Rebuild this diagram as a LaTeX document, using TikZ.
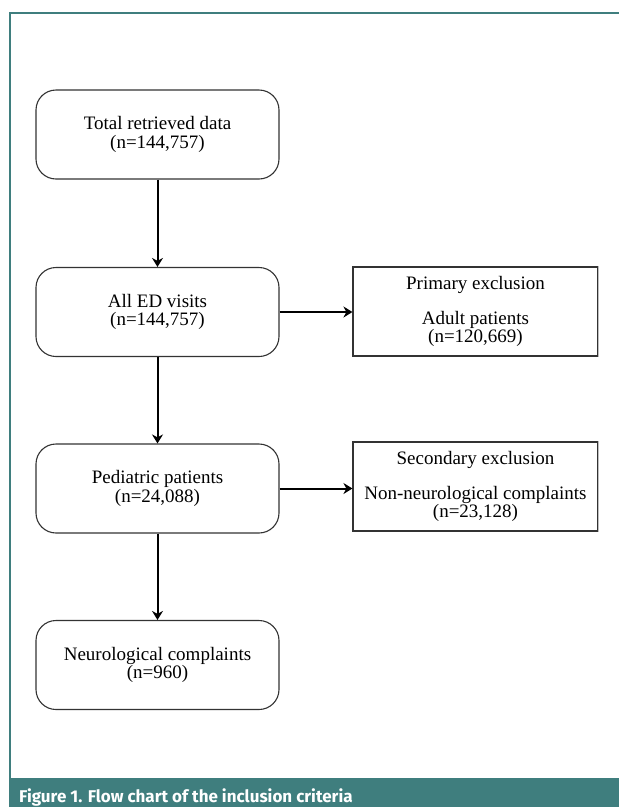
\documentclass[tikz,border=0pt]{standalone}
\usepackage{fontspec}
\setmainfont{Liberation Serif}
\newfontfamily\capfont{Fira Sans}
\usetikzlibrary{arrows.meta}
\definecolor{teal1}{HTML}{3F7E7E}
\begin{document}
\begin{tikzpicture}[x=1pt,y=-1pt,
  rbox/.style={draw=black!80,line width=1.1pt,rounded corners=20pt,minimum width=243pt,minimum height=89pt,align=center,font=\fontsize{19}{18.5}\selectfont},
  sbox/.style={draw=black!80,line width=1.1pt,minimum width=245pt,minimum height=89pt,align=center,font=\fontsize{19}{17}\selectfont},
  arr/.style={line width=2pt,-{Stealth[length=9pt,width=11pt]}}]
\useasboundingbox (0,0) rectangle (619,807);
\begin{scope}
\clip (0,0) rectangle (619,807);
\fill[teal1] (9,778) rectangle (619,812);
\draw[teal1,line width=2pt] (10,778) -- (10,13) -- (619,13);
\node[anchor=base west,text=white,font=\capfont\bfseries\fontsize{17}{20}\selectfont,inner sep=0pt] (cap) at (19,802) {Figure 1. Flow chart of the inclusion criteria};
\end{scope}
\node[rbox] (a) at (157.5,134.5) {Total retrieved data\\(n=144,757)};
\node[rbox] (b) at (157.5,312) {All ED visits\\(n=144,757)};
\node[rbox] (c) at (157.5,488.5) {Pediatric patients\\(n=24,088)};
\node[rbox] (d) at (157.5,665) {Neurological complaints\\(n=960)};
\node[sbox] (e) at (475.5,311.5) {Primary exclusion\\[17pt]Adult patients\\(n=120,669)};
\node[sbox] (f) at (475.5,486.5) {Secondary exclusion\\[17pt]Non-neurological complaints\\(n=23,128)};
\draw[black!25,line width=1.1pt] (e.north east) -- (e.south east);
\draw[black!25,line width=1.1pt] (f.north east) -- (f.south east);
\draw[arr] (a) -- (b);
\draw[arr] (b) -- (c);
\draw[arr] (c) -- (d);
\draw[arr] (b.east) -- (e.west|-b.east);
\draw[arr] (c.east) -- (f.west|-c.east);
\end{tikzpicture}
\end{document}
